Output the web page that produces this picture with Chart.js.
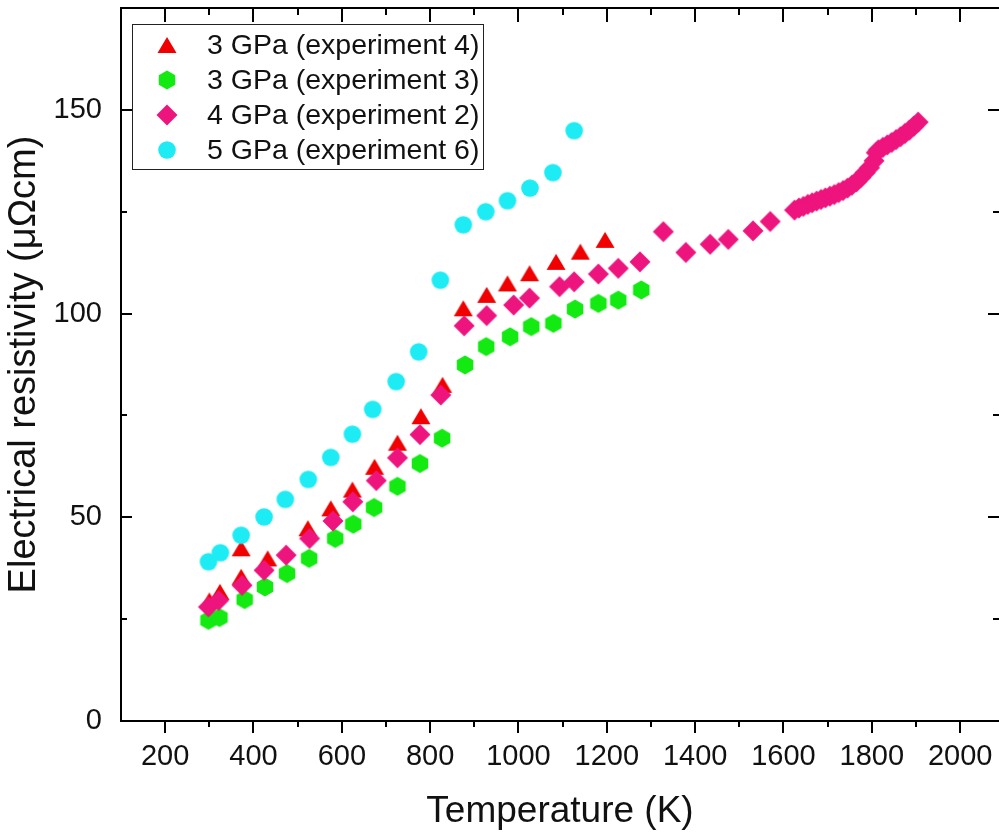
<!DOCTYPE html>
<html>
<head>
<meta charset="utf-8">
<title>Electrical resistivity vs temperature</title>
<script src="https://cdn.jsdelivr.net/npm/chart.js@4.4.1/dist/chart.umd.min.js"></script>
<style>
  html, body { margin: 0; padding: 0; background: #fff; }
  #wrap { width: 999px; height: 834px; }
</style>
</head>
<body>
<div id="wrap"><canvas id="chart" width="999" height="834"></canvas></div>
<script>
// 3 GPa (experiment 4)
const exp4Temp = [300, 324, 372, 372, 432, 523, 575, 624, 674, 726, 779, 828, 875, 928, 975, 1025, 1085, 1140, 1196];
const exp4Rho  = [29.6, 31.7, 42.4, 35.4, 39.9, 47.3, 52.2, 56.8, 62.4, 68.3, 74.8, 82.5, 101.3, 104.6, 107.4, 109.9, 112.7, 115.2, 118.1];

// 3 GPa (experiment 3)
const exp3Temp = [298, 323, 380, 426, 476, 526, 585, 626, 673, 726, 777, 827, 879, 927, 981, 1029, 1079, 1128, 1181, 1226, 1278];
const exp3Rho  = [24.7, 25.4, 29.8, 32.9, 36.2, 39.9, 44.8, 48.3, 52.4, 57.6, 63.2, 69.4, 87.4, 91.9, 94.3, 96.8, 97.6, 101.1, 102.5, 103.3, 105.8];

// 4 GPa (experiment 2)
const exp2Temp = [298, 321, 374, 424, 474, 527, 580, 625, 678, 726, 777, 824, 877, 928, 989, 1025, 1093, 1126, 1181, 1226, 1275,
  1328, 1379, 1434, 1475, 1531, 1570, 1625, 1635, 1645, 1655, 1665, 1675, 1685, 1695, 1705, 1715, 1725, 1735, 1745, 1755,
  1765, 1775, 1785, 1795, 1805, 1810, 1815, 1825, 1835, 1845, 1855, 1865, 1875, 1885, 1895, 1905];
const exp2Rho  = [28, 29.6, 33.3, 37, 40.7, 44.8, 49.1, 53.8, 59, 64.6, 70.3, 80, 97, 99.5, 102.1, 103.8, 106.6, 107.8, 109.7, 111.1, 112.7,
  120.1, 115, 117, 118.2, 120.3, 122.6, 125.4, 125.9, 126.3, 126.8, 127.2, 127.6, 128.0, 128.4, 128.8, 129.2, 129.7, 130.2, 130.8, 131.5,
  132.3, 133.4, 134.6, 135.8, 137.5, 139.5, 140.2, 140.8, 141.4, 142.0, 142.7, 143.4, 144.2, 145.0, 146.0, 147.0];

// 5 GPa (experiment 6)
const exp6Temp = [298, 325, 372, 424, 472, 524, 575, 624, 670, 723, 774, 823, 875, 926, 975, 1026, 1078, 1126];
const exp6Rho  = [39.1, 41.3, 45.6, 50.1, 54.4, 59.3, 64.7, 70.4, 76.5, 83.3, 90.6, 108.2, 121.8, 125, 127.7, 130.8, 134.6, 144.9];

const seriesLabels = ['3 GPa (experiment 4)', '3 GPa (experiment 3)', '4 GPa (experiment 2)', '5 GPa (experiment 6)'];

// labelled ticks
const xTickValues = [200, 400, 600, 800, 1000, 1200, 1400, 1600, 1800, 2000];
const yTickValues = [0, 50, 100, 150];

const FONT = '"Liberation Sans", Arial, sans-serif';
Chart.defaults.font.family = FONT;
Chart.defaults.color = '#111';

function toPoints(xs, ys) {
  return xs.map((x, i) => ({ x: x, y: ys[i] }));
}

// marker images, used for both the points and the legend
function marker(shape, fill) {
  const c = document.createElement('canvas');
  c.width = 24;
  c.height = 24;
  const g = c.getContext('2d');
  g.fillStyle = fill;
  g.beginPath();
  if (shape === 'triangle') {
    g.moveTo(12, 4); g.lineTo(21.5, 20); g.lineTo(2.5, 20);
  } else if (shape === 'hexagon') {
    for (let k = 0; k < 6; k++) {
      const a = Math.PI / 180 * (60 * k - 90);
      g.lineTo(12 + 9.5 * Math.cos(a), 12 + 9.5 * Math.sin(a));
    }
  } else if (shape === 'diamond') {
    g.moveTo(12, 1.5); g.lineTo(22.5, 12); g.lineTo(12, 22.5); g.lineTo(1.5, 12);
  } else {
    g.arc(12, 12, 8.8, 0, Math.PI * 2);
  }
  g.closePath();
  g.fill();
  return c;
}

// frame with Origin-style ticks (major + minor, bottom outward, others inward)
const frameTicks = {
  id: 'frameTicks',
  afterDraw(chart) {
    const ctx = chart.ctx;
    const xs = chart.scales.x, ys = chart.scales.y;
    const { left, right, top, bottom } = chart.chartArea;
    ctx.save();
    ctx.strokeStyle = '#000';
    ctx.lineWidth = 2;
    ctx.beginPath();
    ctx.moveTo(left, top); ctx.lineTo(right + 2, top);
    ctx.moveTo(left, top - 1); ctx.lineTo(left, bottom + 1);
    ctx.moveTo(left - 1, bottom); ctx.lineTo(right + 2, bottom);
    for (let v = 200; v < xs.max; v += 100) {
      const major = v % 200 === 0;
      const px = Math.round(xs.getPixelForValue(v));
      ctx.moveTo(px, bottom); ctx.lineTo(px, bottom + (major ? 12 : 6));
      ctx.moveTo(px, top); ctx.lineTo(px, top + (major ? 14 : 7));
    }
    for (let v = 25; v < ys.max; v += 25) {
      const major = v % 50 === 0;
      const py = Math.round(ys.getPixelForValue(v));
      ctx.moveTo(left, py); ctx.lineTo(left + (major ? 11 : 6), py);
      ctx.moveTo(right, py); ctx.lineTo(right - (major ? 11 : 6), py);
    }
    ctx.stroke();
    ctx.restore();
  }
};

const legendBox = {
  id: 'legendBox',
  afterDraw(chart) {
    const ctx = chart.ctx;
    const a = chart.chartArea;
    const x0 = a.left + 11, y0 = a.top + 16, w = 351, h = 145;
    ctx.save();
    ctx.fillStyle = '#fff';
    ctx.fillRect(x0, y0, w, h);
    ctx.strokeStyle = '#222';
    ctx.lineWidth = 1;
    ctx.strokeRect(x0 + 0.5, y0 + 0.5, w, h);
    ctx.font = '28.5px ' + FONT;
    ctx.textBaseline = 'middle';
    chart.data.datasets.forEach((ds, i) => {
      const cy = y0 + 21 + i * 35;
      const img = ds.pointStyle;
      ctx.drawImage(img, x0 + 35 - img.width / 2, cy - img.height / 2);
      ctx.fillStyle = '#111';
      ctx.fillText(ds.label, x0 + 75, cy + 1);
    });
    ctx.restore();
  }
};

const ctx = document.getElementById('chart').getContext('2d');
new Chart(ctx, {
  type: 'scatter',
  data: {
    datasets: [
      { label: seriesLabels[0], data: toPoints(exp4Temp, exp4Rho), pointStyle: marker('triangle', '#f00000'), pointRadius: 9, order: 4 },
      { label: seriesLabels[1], data: toPoints(exp3Temp, exp3Rho), pointStyle: marker('hexagon', '#12ea12'), pointRadius: 9, order: 3 },
      { label: seriesLabels[2], data: toPoints(exp2Temp, exp2Rho), pointStyle: marker('diamond', '#ee147e'), pointRadius: 9, order: 2 },
      { label: seriesLabels[3], data: toPoints(exp6Temp, exp6Rho), pointStyle: marker('circle', '#1eecf4'), pointRadius: 9, order: 1 }
    ]
  },
  options: {
    responsive: false,
    devicePixelRatio: 1,
    animation: false,
    events: [],
    layout: { autoPadding: false, padding: { top: 8, left: 0, right: 0, bottom: 0 } },
    plugins: {
      legend: { display: false },
      tooltip: { enabled: false }
    },
    scales: {
      x: {
        type: 'linear',
        min: 100,
        max: 2088,
        grid: { display: false, drawTicks: false },
        border: { display: false },
        ticks: {
          autoSkip: false,
          maxRotation: 0,
          padding: 19,
          color: '#111',
          font: { size: 29 },
          callback: (v) => String(v)
        },
        title: {
          display: true,
          text: 'Temperature (K)',
          color: '#111',
          font: { size: 37 },
          padding: 0
        },
        afterBuildTicks(scale) { scale.ticks = xTickValues.map(v => ({ value: v })); },
        afterFit(scale) {
          scale.height = 113;
          scale.paddingLeft = 0;
          scale.paddingRight = 0;
        }
      },
      y: {
        type: 'linear',
        min: 0,
        max: 175,
        grid: { display: false, drawTicks: false },
        border: { display: false },
        ticks: {
          padding: 19,
          color: '#111',
          font: { size: 29 },
          callback: (v) => String(v)
        },
        title: {
          display: true,
          text: 'Electrical resistivity (μΩcm)',
          color: '#111',
          font: { size: 38 },
          padding: { top: 2, bottom: 0 }
        },
        afterBuildTicks(scale) { scale.ticks = yTickValues.map(v => ({ value: v })); },
        afterFit(scale) {
          scale.width = 121;
          scale.paddingTop = 0;
          scale.paddingBottom = 0;
        }
      }
    }
  },
  plugins: [frameTicks, legendBox]
});
</script>
</body>
</html>
